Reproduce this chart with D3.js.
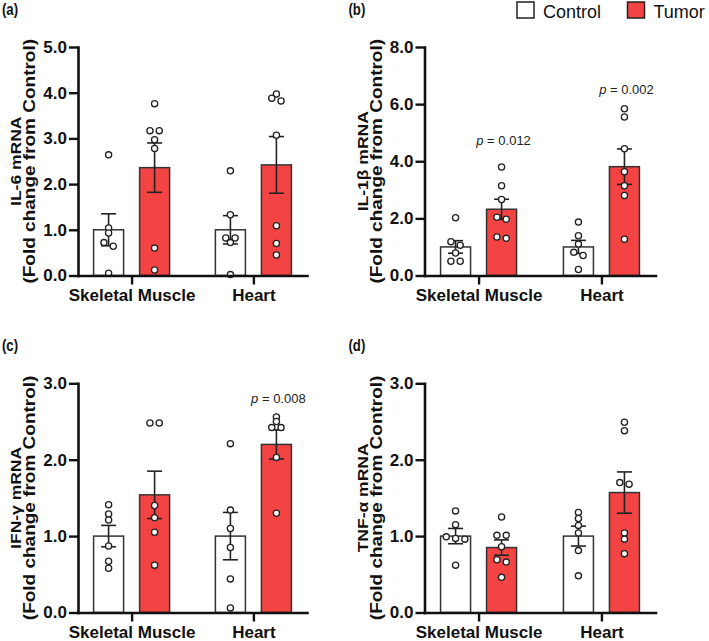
<!DOCTYPE html>
<html>
<head>
<meta charset="utf-8">
<script src="https://cdn.jsdelivr.net/npm/d3@7/dist/d3.min.js"></script>
<style>
  html, body { margin: 0; padding: 0; background: #fff; }
  svg { display: block; }
  text { font-family: "Liberation Sans", Arial, Helvetica, sans-serif; }
</style>
</head>
<body>
<script>
// ---------------- DATA ----------------
const categories = ["Skeletal Muscle", "Heart"];
const groups = ["Control", "Tumor"];
const panelTags = ["(a)", "(b)", "(c)", "(d)"];
const yTitles = ["IL-6 mRNA", "IL-1β mRNA", "IFN-γ mRNA", "TNF-α mRNA"];
const yTitleSub = "(Fold change from Control)";
const yMaxes = [5, 8, 3, 3];
const yTickSteps = [1, 2, 1, 1];

// order in each panel: [Control SM, Tumor SM, Control Heart, Tumor Heart]
const il6Points = [
  [2.64, 1.04, 0.93, 0.72, 0.64, 0.05],
  [3.76, 3.17, 3.17, 2.97, 2.78, 0.60, 0.12],
  [2.29, 1.33, 0.82, 0.82, 0.72, 0.02],
  [3.97, 3.88, 3.82, 3.07, 1.09, 0.70, 0.45]
];
const il6Means = [1.00, 2.36, 1.00, 2.42];
const il6Sems = [0.35, 0.54, 0.31, 0.62];

const il1bPoints = [
  [2.02, 1.18, 1.06, 0.79, 0.50, 0.50],
  [3.80, 3.14, 2.66, 2.04, 1.97, 1.35, 1.30],
  [1.87, 1.39, 1.10, 0.81, 0.70, 0.21],
  [5.84, 5.55, 4.44, 3.63, 3.14, 2.80, 1.27]
];
const il1bMeans = [1.00, 2.32, 1.00, 3.81];
const il1bSems = [0.22, 0.35, 0.23, 0.62];

const ifngPoints = [
  [1.41, 1.29, 1.21, 0.87, 0.67, 0.58],
  [2.48, 2.48, 1.40, 1.24, 1.05, 0.62],
  [2.21, 1.34, 1.10, 0.85, 0.44, 0.06],
  [2.56, 2.50, 2.42, 2.42, 2.03, 1.30]
];
const ifngMeans = [1.00, 1.54, 1.00, 2.20];
const ifngSems = [0.14, 0.31, 0.31, 0.19];

const tnfaPoints = [
  [1.33, 1.15, 0.99, 0.97, 0.96, 0.62],
  [1.25, 1.01, 1.01, 0.86, 0.69, 0.66, 0.46],
  [1.31, 1.23, 1.14, 1.04, 0.81, 0.48],
  [2.49, 2.38, 1.70, 1.68, 1.04, 0.96, 0.77]
];
const tnfaMeans = [1.00, 0.85, 1.00, 1.57];
const tnfaSems = [0.10, 0.10, 0.13, 0.27];

// p-value annotations (panel index, category, text, label level in data units)
const pPanels = [1, 1, 2];
const pCategories = ["Skeletal Muscle", "Heart", "Heart"];
const pValues = ["0.012", "0.002", "0.008"];
const pLevels = [4.56, 6.34, 2.74];

// ---------------- LAYOUT ----------------
const W = 709, H = 641;
const colors = { Control: "#ffffff", Tumor: "#f44343" };
const cols = [{ x0: 78, x1: 307 }, { x0: 424.5, x1: 655.5 }];
const rows = [{ yTop: 47, y0: 275.5 }, { yTop: 383.3, y0: 612.5 }];
const panelPoints = [il6Points, il1bPoints, ifngPoints, tnfaPoints];
const panelMeans = [il6Means, il1bMeans, ifngMeans, tnfaMeans];
const panelSems = [il6Sems, il1bSems, ifngSems, tnfaSems];

const svg = d3.select("body").append("svg").attr("width", W).attr("height", H);

// legend
const legend = svg.append("g");
const legX = [517, 627.5];
groups.forEach((g, i) => {
  legend.append("rect").attr("x", legX[i]).attr("y", 2).attr("width", 17).attr("height", 16)
    .attr("fill", colors[g]).attr("stroke", "#222").attr("stroke-width", 1.5);
  legend.append("text").attr("x", legX[i] + 26).attr("y", 17.5)
    .attr("font-size", 18).attr("fill", "#111").text(g);
});

function swarm(vals, yScale, cx) {
  const pts = vals.map(v => ({ v, y: yScale(v) })).sort((a, b) => a.y - b.y);
  const rws = [];
  pts.forEach(p => {
    const last = rws[rws.length - 1];
    if (last && p.y - last[0].y < 4) last.push(p); else rws.push([p]);
  });
  rws.forEach(r => r.forEach((p, i) => { p.x = cx + (i - (r.length - 1) / 2) * 9.3; }));
  return pts;
}

for (let pi = 0; pi < 4; pi++) {
  const col = cols[pi % 2], row = rows[Math.floor(pi / 2)];
  const g = svg.append("g");
  const y = d3.scaleLinear().domain([0, yMaxes[pi]]).range([row.y0, row.yTop]);
  const x = d3.scalePoint().domain(categories).range([col.x0, col.x1]).padding(0.44);
  const xSub = d3.scaleBand().domain(groups).range([-38, 38]).paddingInner(16 / 46);

  // panel tag
  g.append("text")
    .attr("transform", `translate(${col.x0 - 76},${row.yTop - 32}) scale(0.82,1)`)
    .attr("font-size", 16).attr("font-weight", "bold").attr("fill", "#111")
    .text(panelTags[pi]);

  // y title
  const cy = (row.y0 + row.yTop) / 2;
  const tg = g.append("g").attr("transform", `translate(${col.x0 - 57},${cy}) scale(0.88,1) rotate(-90)`);
  tg.append("text").attr("text-anchor", "middle").attr("font-size", 17.5).attr("font-weight", "bold")
    .attr("fill", "#111").text(yTitles[pi]);
  tg.append("text").attr("text-anchor", "middle").attr("y", 16).attr("font-size", 19)
    .attr("font-weight", "bold").attr("fill", "#111").text(yTitleSub);

  // data
  const pts = panelPoints[pi], means = panelMeans[pi], sems = panelSems[pi];
  const items = [];
  categories.forEach((c, ci) => groups.forEach((gr, gi) => {
    const k = ci * 2 + gi;
    items.push({ c, gr, vals: pts[k], mean: means[k], sem: sems[k], cx: x(c) + xSub(gr) + xSub.bandwidth() / 2 });
  }));

  g.selectAll("rect.bar").data(items).join("rect").attr("class", "bar")
    .attr("x", d => x(d.c) + xSub(d.gr)).attr("width", xSub.bandwidth())
    .attr("y", d => y(d.mean)).attr("height", d => y(0) - y(d.mean))
    .attr("fill", d => colors[d.gr]).attr("stroke", "#333").attr("stroke-width", 1.5);

  const eb = g.selectAll("g.eb").data(items).join("g").attr("class", "eb")
    .attr("stroke", "#222").attr("stroke-width", 1.6);
  eb.append("line").attr("x1", d => d.cx).attr("x2", d => d.cx)
    .attr("y1", d => y(d.mean - d.sem)).attr("y2", d => y(d.mean + d.sem));
  eb.append("line").attr("x1", d => d.cx - 7.5).attr("x2", d => d.cx + 7.5)
    .attr("y1", d => y(d.mean + d.sem)).attr("y2", d => y(d.mean + d.sem));
  eb.append("line").attr("x1", d => d.cx - 7.5).attr("x2", d => d.cx + 7.5)
    .attr("y1", d => y(d.mean - d.sem)).attr("y2", d => y(d.mean - d.sem));

  items.forEach(it => {
    g.append("g").selectAll("circle").data(swarm(it.vals, y, it.cx)).join("circle")
      .attr("cx", d => d.x).attr("cy", d => d.y).attr("r", 3.1)
      .attr("fill", "#fff").attr("stroke", "#222").attr("stroke-width", 1.3);
  });

  // axes
  const ticks = d3.range(0, yMaxes[pi] + yTickSteps[pi] / 2, yTickSteps[pi]);
  const ya = g.append("g").attr("transform", `translate(${col.x0},0)`)
    .call(d3.axisLeft(y).tickValues(ticks).tickFormat(d3.format(".1f")).tickSize(9).tickPadding(2).tickSizeOuter(0));
  const xa = g.append("g").attr("transform", `translate(0,${row.y0})`)
    .call(d3.axisBottom(x).tickSize(9).tickPadding(4).tickSizeOuter(0));
  [ya, xa].forEach(a => {
    a.select(".domain").attr("stroke", "#111").attr("stroke-width", 2.6).attr("stroke-linecap", "square");
    a.selectAll(".tick line").attr("stroke", "#111").attr("stroke-width", 2.4);
    a.selectAll(".tick text").attr("font-size", 17).attr("font-weight", "bold").attr("fill", "#111")
      .attr("font-family", "'Liberation Sans', Arial, Helvetica, sans-serif");
  });

  // p-values
  pPanels.forEach((pp, k) => {
    if (pp !== pi) return;
    const t = g.append("text").attr("x", x(pCategories[k]) + xSub("Tumor") + xSub.bandwidth() / 2 + 2)
      .attr("y", y(pLevels[k])).attr("text-anchor", "middle").attr("font-size", 13).attr("fill", "#222");
    t.append("tspan").attr("font-style", "italic").text("p");
    t.append("tspan").text(" = " + pValues[k]);
  });
}
</script>
</body>
</html>
